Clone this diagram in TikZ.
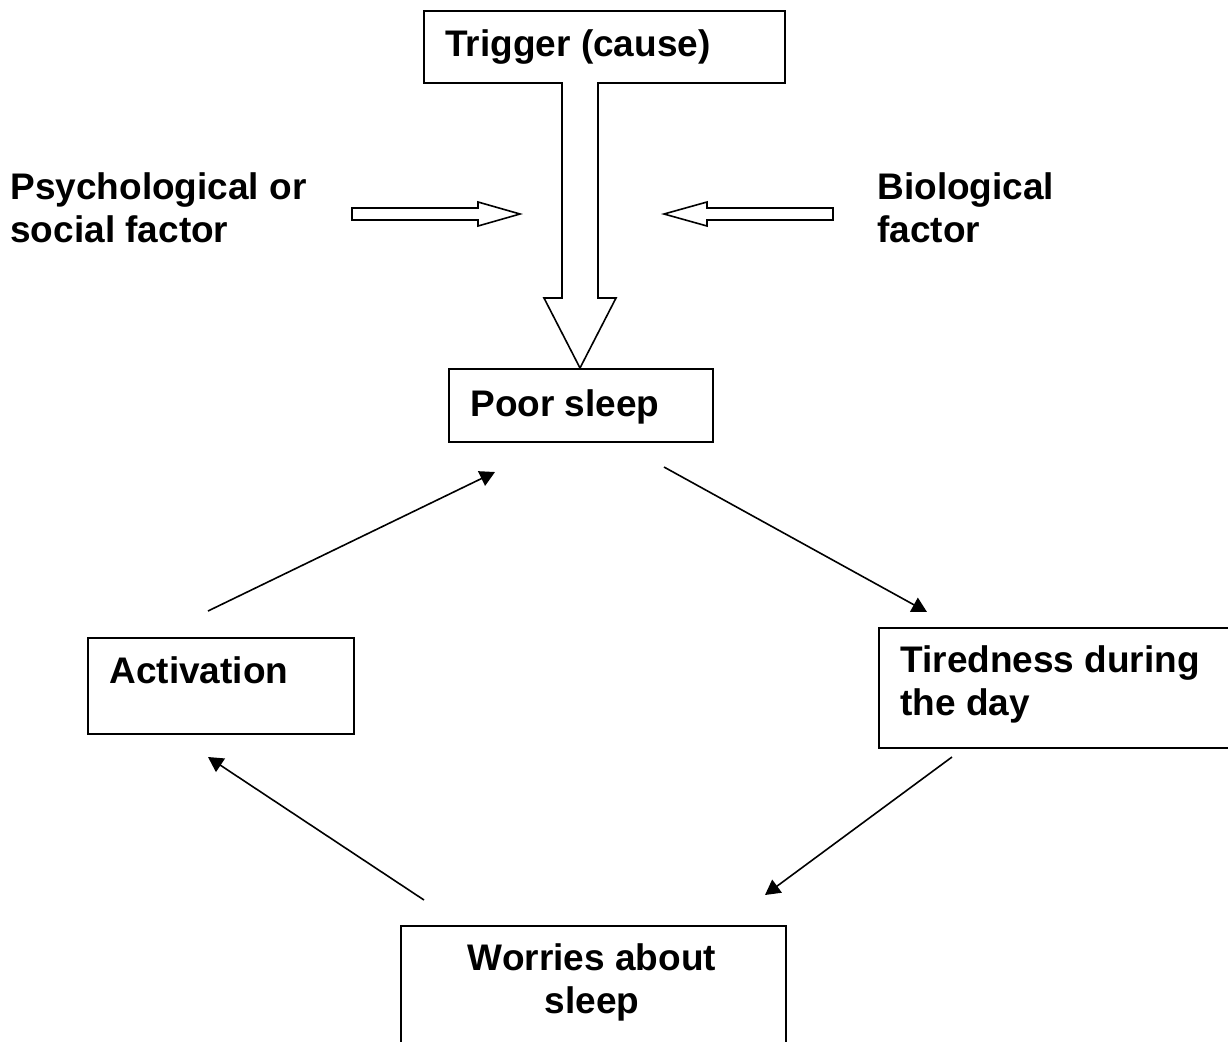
\documentclass[tikz,border=0pt]{standalone}
\usepackage{fontspec}
\setmainfont{Liberation Sans}
\usetikzlibrary{arrows.meta}
\tikzset{
  box/.style={draw, line width=0.9pt, rectangle, inner sep=0pt, anchor=north west},
  txt/.style={font=\fontsize{18.5pt}{21.5pt}\selectfont\bfseries, inner sep=0pt, align=left},
  link/.style={line width=0.8pt, -{Triangle[length=7.5pt,width=8pt]}},
  hollow/.style={draw, line width=0.8pt, fill=white, line join=miter}
}
\begin{document}
\begin{tikzpicture}[x=0.5pt, y=-0.5pt]
  \clip (0,0) rectangle (1228,1041);
  \fill[white] (0,0) rectangle (1228,1041);

  % boxes
  \node[box, minimum width=180.5pt, minimum height=36pt] (trigger) at (423,10) {};
  \node[box, minimum width=132pt, minimum height=36.5pt] (poor) at (448,368) {};
  \node[box, minimum width=133pt, minimum height=48pt] (act) at (87,637) {};
  \node[box, minimum width=190pt, minimum height=60pt] (tired) at (878,627) {};
  \node[box, minimum width=192.5pt, minimum height=80pt] (worry) at (400,925) {};

  % box texts
  \node[txt, anchor=base west] (triggertxt) at (445,56) {Trigger (cause)};
  \node[txt, anchor=base west] (poortxt) at (470,416) {Poor sleep};
  \node[txt, anchor=base west] (acttxt) at (109,683) {Activation};
  \node[txt, anchor=north west] (tiredtxt) at (900,645) {Tiredness during\\the day};
  \node[txt, anchor=north, align=center] (worrytxt) at (592,943) {Worries about\\sleep};

  % side factors
  \node[txt, anchor=north west] (psych) at (10,172) {Psychological or\\social factor};
  \node[txt, anchor=north west] (bio) at (877,172) {Biological\\factor};

  % block arrow from the trigger down to poor sleep
  \draw[hollow] (562,82) -- (562,298) -- (544,298) -- (580,368) -- (616,298) -- (598,298) -- (598,82);

  % small hollow arrows pointing at the block arrow
  \draw[hollow] (352,208) -- (478,208) -- (478,202) -- (520,214) -- (478,226) -- (478,220) -- (352,220) -- cycle;
  \draw[hollow] (833,208) -- (707,208) -- (707,202) -- (664,214) -- (707,226) -- (707,220) -- (833,220) -- cycle;

  % cycle connectors
  \coordinate (p1) at (664,467);
  \coordinate (t1) at (927,612);
  \coordinate (t2) at (952,757);
  \coordinate (w1) at (765,895);
  \coordinate (w2) at (424,900);
  \coordinate (a1) at (208,757);
  \coordinate (a2) at (208,611);
  \coordinate (p2) at (495,472);
  \draw[link] (p1) -- (t1);
  \draw[link] (t2) -- (w1);
  \draw[link] (w2) -- (a1);
  \draw[link] (a2) -- (p2);
\end{tikzpicture}
\end{document}
